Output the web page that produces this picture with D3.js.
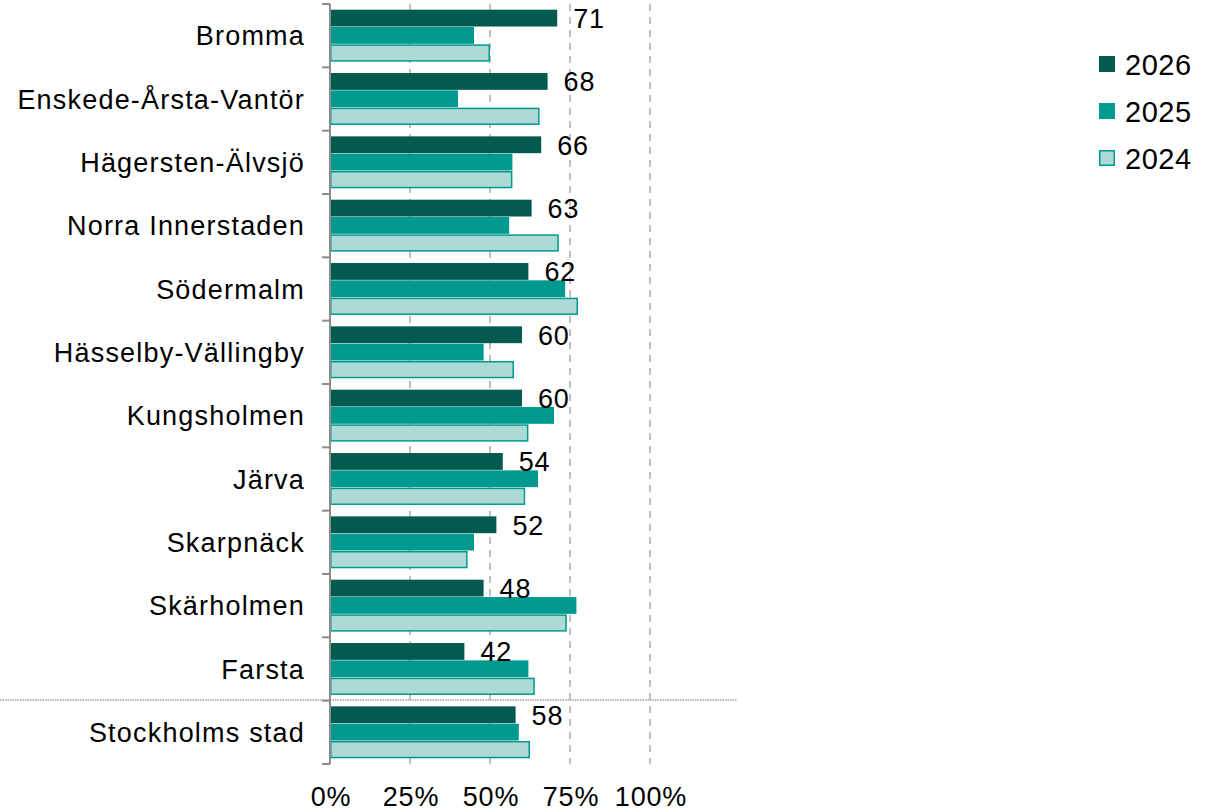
<!DOCTYPE html>
<html><head><meta charset="utf-8">
<script src="https://cdn.jsdelivr.net/npm/d3@7"></script>
<style>body{margin:0;background:#fff}svg{display:block;font-family:"Liberation Sans",Arial,sans-serif}</style>
</head><body><svg id="c" width="1212" height="812"></svg>
<script>
const categories = ["Bromma","Enskede-Årsta-Vantör","Hägersten-Älvsjö","Norra Innerstaden","Södermalm","Hässelby-Vällingby","Kungsholmen","Järva","Skarpnäck","Skärholmen","Farsta","Stockholms stad"];
const series = ["2026","2025","2024"];
const values2026 = [71,68,66,63,62,60,60,54,52,48,42,58];
const values2025 = [45,40,57,56,73.5,48,70,65,45,77,62,59];
const values2024 = [50,65.5,57,71.5,77.5,57.5,62,61,43,74,64,62.5];
const xTicks = [0,25,50,75,100];
const colors = {"2026":"#035B50","2025":"#00998F","2024":"#ADDAD6"};
const strokes = {"2026":"#035B50","2025":"#00998F","2024":"#00998F"};

const svg = d3.select("#c");
const x = d3.scaleLinear().domain([0,100]).range([330,650]);
const y = d3.scaleBand().domain(categories).range([4,764]).paddingInner(0.18).paddingOuter(0.09);
const ys = d3.scaleBand().domain(series).range([0,y.bandwidth()]);
const valuesBy = {"2026":values2026,"2025":values2025,"2024":values2024};

// gridlines
svg.append("g").selectAll("line").data(xTicks.slice(1)).join("line")
  .attr("x1",d=>x(d)).attr("x2",d=>x(d)).attr("y1",4).attr("y2",764)
  .attr("stroke","#bfbfbf").attr("stroke-width",2).attr("stroke-dasharray","7,6");

// bars
const g = svg.append("g");
categories.forEach((c,i)=>{
  series.forEach(s=>{
    const v = valuesBy[s][i];
    const isLight = s==="2024";
    g.append("rect")
      .attr("x",x(0)+ (isLight?0.75:0)).attr("y",y(c)+ys(s)+(isLight?0.75:0))
      .attr("width",x(v)-x(0)-(isLight?1.5:0)).attr("height",ys.bandwidth()-(isLight?1.5:0.5))
      .attr("fill",colors[s]).attr("stroke",isLight?strokes[s]:"none").attr("stroke-width",isLight?1.5:0);
  });
  svg.append("text").attr("x",x(values2026[i])+16).attr("y",y(c)+ys("2026")+ys.bandwidth()/2)
    .attr("dy","0.36em").attr("font-size",27).attr("letter-spacing",0.8).attr("fill","#000").text(values2026[i]);
});

// separator
svg.append("line").attr("x1",0).attr("x2",737).attr("y1",700).attr("y2",700)
  .attr("stroke","#a0a0a0").attr("stroke-width",1.5).attr("stroke-dasharray","1.5,1");

// y axis
const step = y.step();
svg.append("line").attr("x1",330).attr("x2",330).attr("y1",4).attr("y2",764).attr("stroke","#8c8c8c").attr("stroke-width",2);
svg.append("g").selectAll("line").data(d3.range(categories.length+1)).join("line")
  .attr("x1",322).attr("x2",330).attr("y1",d=>4+d*step).attr("y2",d=>4+d*step)
  .attr("stroke","#8c8c8c").attr("stroke-width",2);
svg.append("g").selectAll("text").data(categories).join("text")
  .attr("x",305).attr("y",d=>y(d)+y.bandwidth()/2).attr("dy","0.36em")
  .attr("text-anchor","end").attr("font-size",27).attr("letter-spacing",1.2).attr("fill","#000").text(d=>d);

// x axis labels
svg.append("g").selectAll("text").data(xTicks).join("text")
  .attr("x",d=>x(d)+1).attr("y",806).attr("text-anchor","middle")
  .attr("font-size",27).attr("letter-spacing",0.8).attr("fill","#000").text(d=>d+"%");

// legend
const lg = svg.append("g");
series.forEach((s,i)=>{
  const yy = 56+i*47;
  lg.append("rect").attr("x",s==="2024"?1099.75:1099).attr("y",yy+(s==="2024"?0.75:0))
    .attr("width",s==="2024"?14.5:16).attr("height",s==="2024"?14.5:16)
    .attr("fill",colors[s]).attr("stroke",s==="2024"?strokes[s]:"none").attr("stroke-width",1.5);
  lg.append("text").attr("x",1125).attr("y",yy+19).attr("font-size",29).attr("letter-spacing",0.5).attr("fill","#000").text(s);
});
</script></body></html>
